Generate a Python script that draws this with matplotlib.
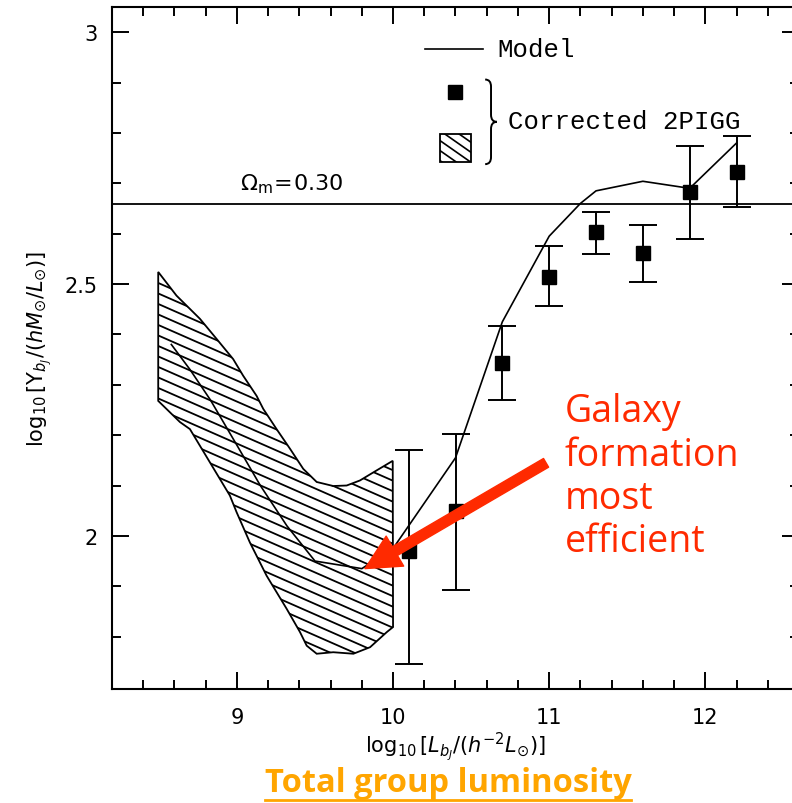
import matplotlib
matplotlib.use('Agg')
import matplotlib.pyplot as plt
import numpy as np
from matplotlib.patches import Polygon, Rectangle, PathPatch
from matplotlib.path import Path
from matplotlib.collections import LineCollection

## Data

# Corrected 2PIGG points with error bars
lum = [10.1, 10.4, 10.7, 11.0, 11.3, 11.6, 11.9, 12.2]
ml = [1.970, 2.050, 2.343, 2.514, 2.603, 2.562, 2.683, 2.722]
ml_hi = [2.171, 2.202, 2.417, 2.575, 2.643, 2.617, 2.774, 2.794]
ml_lo = [1.746, 1.893, 2.270, 2.456, 2.560, 2.504, 2.589, 2.653]

# Model curve
model_x = [8.58, 8.70, 8.83, 9.00, 9.15, 9.32, 9.50, 9.70, 9.80, 10.0, 10.4, 10.7, 11.0, 11.2, 11.3, 11.6, 11.9, 12.2]
model_y = [2.38, 2.33, 2.27, 2.18, 2.10, 2.02, 1.95, 1.94, 1.935, 1.975, 2.155, 2.425, 2.595, 2.66, 2.685, 2.704, 2.69, 2.78]

# Hatched region (outline, going round)
band_x = [8.496, 8.613, 8.763, 8.870, 8.976, 9.040, 9.126, 9.169, 9.254, 9.340, 9.425, 9.511, 9.617, 9.703,
          9.788, 9.895, 9.998, 10.0, 9.96, 9.853, 9.746, 9.617, 9.511, 9.447, 9.404, 9.319, 9.19, 9.083,
          8.998, 8.955, 8.891, 8.827, 8.763, 8.699, 8.635, 8.549, 8.496]
band_y = [2.524, 2.477, 2.431, 2.391, 2.351, 2.318, 2.278, 2.252, 2.212, 2.173, 2.133, 2.107, 2.099, 2.100,
          2.110, 2.130, 2.149, 1.819, 1.809, 1.779, 1.766, 1.769, 1.766, 1.782, 1.809, 1.855, 1.921, 1.987,
          2.047, 2.080, 2.113, 2.146, 2.179, 2.212, 2.226, 2.252, 2.268]

omega_m = 2.659

xticks = [9, 10, 11, 12]
yticks = [2, 2.5, 3]

RED = '#ff2a00'
ORANGE = '#ffa500'

fig = plt.figure(figsize=(7.92, 8.04), dpi=100)
ax = fig.add_axes([112 / 792, 1 - 690 / 804, 687 / 792, 682 / 804])
ax.set_xlim(8.2, 12.6)
ax.set_ylim(1.696, 3.05)

for s in ax.spines.values():
    s.set_linewidth(1.5)

ax.set_xticks(xticks)
ax.set_xticklabels([str(t) for t in xticks])
ax.set_yticks(yticks)
ax.set_yticklabels(['2', '2.5', '3'])
ax.set_xticks(np.arange(8.4, 12.6, 0.2), minor=True)
ax.set_yticks(np.arange(1.8, 3.05, 0.1), minor=True)
ax.tick_params(which='both', direction='in', top=True, right=True, width=1.4, labelsize=15)
ax.tick_params(which='major', length=12)
ax.tick_params(which='minor', length=6.5)
ax.tick_params(axis='x', pad=13)
ax.tick_params(axis='y', pad=10)

ax.set_xlabel(r'$\log_{10}[L_{b_J}/(h^{-2}L_{\odot})]$', fontsize=15, labelpad=2)
ax.set_ylabel(r'$\log_{10}[\Upsilon_{b_J}/(hM_{\odot}/L_{\odot})]$', fontsize=15, labelpad=8)

# Omega_m line
ax.axhline(omega_m, color='black', lw=1.3)
ax.text(9.02, 2.70, r'$\Omega_\mathrm{m}\!=\!0.30$', fontsize=16, va='center', ha='left')

fig.canvas.draw()


def add_hatch(patch, spacing=10.5, slope=-0.44, lw=1.3):
    # slanted hatch lines, clipped to the patch
    verts = patch.get_path().vertices
    disp = patch.get_transform().transform(verts)
    x0, x1 = disp[:, 0].min() - 5, disp[:, 0].max() + 5
    y0, y1 = disp[:, 1].min() - 5, disp[:, 1].max() + 5
    w = x1 - x0
    segs = []
    for c in np.arange(y0, y1 - slope * w + spacing, spacing):
        p = np.array([[x0, c], [x1, c + slope * w]])
        segs.append(ax.transData.inverted().transform(p))
    lc = LineCollection(segs, colors='black', linewidths=lw)
    ax.add_collection(lc)
    lc.set_clip_path(patch)


band = Polygon(np.column_stack([band_x, band_y]), closed=True, facecolor='none', edgecolor='black', lw=1.3)
ax.add_patch(band)
add_hatch(band)

# Model
ax.plot(model_x, model_y, color='black', lw=1.2)

# 2PIGG points
ml_arr = np.array(ml)
yerr = [ml_arr - np.array(ml_lo), np.array(ml_hi) - ml_arr]
ax.errorbar(lum, ml, yerr=yerr, fmt='s', color='black', ms=10, elinewidth=1.4, capsize=10, capthick=1.4)

# Legend, drawn by hand
ax.plot([10.205, 10.577], [2.966, 2.966], color='black', lw=1.2)
ax.text(10.667, 2.966, 'Model', fontsize=18.5, family='Liberation Mono', va='center', ha='left')
ax.plot([10.397], [2.881], 's', color='black', ms=10)
box = Rectangle((10.301, 2.742), 0.199, 0.056, facecolor='none', edgecolor='black', lw=1.3)
ax.add_patch(box)
add_hatch(box, spacing=10, slope=-0.7, lw=1.2)

# curly brace
xl, xr, top, bot = 10.59, 10.665, 2.906, 2.738
xm, yc, d = (xl + xr) / 2, (top + bot) / 2, 0.014
brace = Path([(xl, top), (xm, top), (xm, top - d), (xm, yc + d), (xm, yc), (xr, yc),
              (xm, yc), (xm, yc - d), (xm, bot + d), (xm, bot), (xl, bot)],
             [Path.MOVETO, Path.CURVE3, Path.CURVE3, Path.LINETO, Path.CURVE3, Path.CURVE3,
              Path.CURVE3, Path.CURVE3, Path.LINETO, Path.CURVE3, Path.CURVE3])
ax.add_patch(PathPatch(brace, facecolor='none', edgecolor='black', lw=1.4))
ax.text(10.737, 2.823, 'Corrected 2PIGG', fontsize=18.5, family='Liberation Mono', va='center', ha='left')

# Annotation
ax.annotate('', xy=(9.82, 1.935), xytext=(10.98, 2.145),
            arrowprops=dict(arrowstyle='simple,head_length=1.0,head_width=1.0,tail_width=0.29',
                            color=RED, mutation_scale=25, shrinkA=0, shrinkB=0))
ax.text(11.1, 2.285, 'Galaxy\nformation\nmost\nefficient', color=RED, fontsize=27,
        family='Open Sans', va='top', ha='left', linespacing=1.18)

t = fig.text(448 / 792, 1 - 784 / 804, 'Total group luminosity', color=ORANGE, fontsize=23.5,
             family='Open Sans', fontweight='bold', ha='center', va='center')
fig.canvas.draw()
bb = t.get_window_extent().transformed(fig.transFigure.inverted())
fig.add_artist(plt.Line2D([bb.x0, bb.x1], [bb.y0 - 0.001, bb.y0 - 0.001], color=ORANGE, lw=2))

fig.savefig('out.png', dpi=100)
